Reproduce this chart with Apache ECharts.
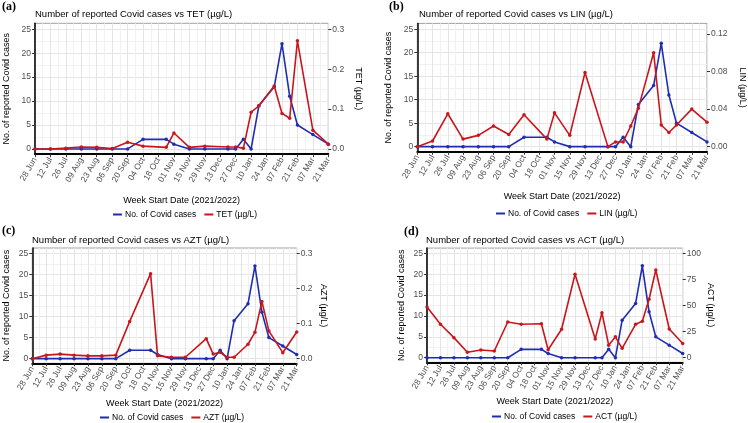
<!DOCTYPE html>
<html><head><meta charset="utf-8">
<script src="https://cdn.jsdelivr.net/npm/echarts@6/dist/echarts.min.js"></script>
<style>html,body{margin:0;padding:0;background:#fff}#c{width:748px;height:423px}</style>
</head><body><div id="c"></div>
<script>
// ---------- data ----------
const weekDates = ['2021-06-28','2021-07-12','2021-07-26','2021-08-09','2021-08-23','2021-09-06','2021-09-20',
  '2021-10-04','2021-10-25','2021-11-01','2021-11-15','2021-11-29','2021-12-20','2021-12-27','2022-01-03',
  '2022-01-10','2022-01-17','2022-01-31','2022-02-07','2022-02-14','2022-02-21','2022-03-07','2022-03-21'];
const covidCases = [0,0,0,0,0,0,0,2,2,1,0,0,0,0,2,0,9,13,22,11,5,3,1];
const tetValues = [0.000,0.000,0.002,0.005,0.004,0.001,0.017,0.007,0.004,0.040,0.004,0.007,0.005,0.005,0.002,0.092,0.108,0.158,0.089,0.077,0.271,0.047,0.012];
const linValues = [0.000,0.006,0.035,0.008,0.012,0.022,0.013,0.034,0.008,0.036,0.012,0.079,0.000,0.005,0.005,0.022,0.041,0.100,0.023,0.015,0.023,0.040,0.026];
const aztValues = [0.000,0.010,0.013,0.010,0.008,0.008,0.010,0.106,0.242,0.008,0.004,0.004,0.057,0.013,0.018,0.004,0.004,0.041,0.075,0.163,0.079,0.017,0.076];
const actValues = [48.5,32,19.2,5.2,7.4,6.4,34.2,32,32.6,7.6,27.2,79.9,18,43.1,12,20,9,32,35,56,84,27.5,13.6];
const xTickLabels = ['28 Jun','12 Jul','26 Jul','09 Aug','23 Aug','06 Sep','20 Sep','04 Oct','18 Oct','01 Nov',
  '15 Nov','29 Nov','13 Dec','27 Dec','10 Jan','24 Jan','07 Feb','21 Feb','07 Mar','21 Mar'];
const casesTicks = [0,5,10,15,20,25];
const casesMinorTicks = [2.5,7.5,12.5,17.5,22.5];
const tetTicks = [0,0.1,0.2,0.3];
const linTicks = [0,0.04,0.08,0.12];
const aztTicks = [0,0.1,0.2,0.3];
const actTicks = [0,25,50,75,100];
const compoundNames = ['TET (µg/L)','LIN (µg/L)','AZT (µg/L)','ACT (µg/L)'];
const panelLetters = ['(a)','(b)','(c)','(d)'];
const casesName = 'No. of Covid cases';
const yLeftName = 'No. of reported Covid cases';
const xName = 'Week Start Date (2021/2022)';

// ---------- layout ----------
const FONT = 'Liberation Sans, Arial, sans-serif';
const BLUE = '#1f2db3', RED = '#c8161d';
const panels = [
  {grid:{left:35,top:23.3,width:293.3,height:130.9}, k:0.012, vals:tetValues, ticks:tetTicks, dec:1,
   letter:[2,1], title:[35,9.5], legend:[113,210], yGap:24, rGap:26, xGap:42},
  {grid:{left:417.3,top:23.4,width:293.4,height:128.4}, k:0.005, vals:linValues, ticks:linTicks, dec:2,
   letter:[389,1], title:[419,9.5], legend:[496,209], yGap:24, rGap:31, xGap:40},
  {grid:{left:32.3,top:248,width:264.4,height:115.3}, k:0.012, vals:aztValues, ticks:aztTicks, dec:1,
   letter:[2,225], title:[32,235.5], legend:[100,413], yGap:21, rGap:22, xGap:36},
  {grid:{left:427,top:248.1,width:255.7,height:114.2}, k:4, vals:actValues, ticks:actTicks, dec:0,
   letter:[404,226], title:[426,235.5], legend:[492,412], yGap:21, rGap:23, xGap:35}
];
const Y_MIN = -1.1, Y_MAX = 26.25;

const t0 = Date.parse(weekDates[0]);
const weekIdx = weekDates.map(d => Math.round((Date.parse(d) - t0) / (7 * 86400000)));

const option = {animation:false, backgroundColor:'#fff', grid:[], xAxis:[], yAxis:[], series:[], title:[], legend:[]};
panels.forEach((p, i) => {
  option.grid.push(Object.assign({show:true, borderColor:'#a0a0a0', borderWidth:1, backgroundColor:'#fff'}, p.grid));
  option.xAxis.push({
    type:'value', gridIndex:i, min:0, max:38, interval:2,
    name:xName, nameLocation:'middle', nameGap:p.xGap,
    nameTextStyle:{fontFamily:FONT, fontSize:9, color:'#000'},
    axisLine:{show:true, onZero:false, lineStyle:{color:'#000', width:2}},
    axisTick:{show:true, length:3, lineStyle:{color:'#333'}},
    axisLabel:{rotate:60, fontSize:8.5, fontFamily:FONT, color:'#4d4d4d', margin:4,
      formatter:v => xTickLabels[Math.round(v/2)]},
    splitLine:{show:true, lineStyle:{color:'#e4e4e4', width:1}},
    minorTick:{show:false, splitNumber:2},
    minorSplitLine:{show:true, lineStyle:{color:'#f1f1f1', width:1}}
  });
  option.yAxis.push({
    type:'value', gridIndex:i, position:'left', min:Y_MIN, max:Y_MAX,
    name:yLeftName, nameLocation:'middle', nameGap:p.yGap, nameRotate:90,
    nameTextStyle:{fontFamily:FONT, fontSize:9, color:'#000'},
    axisLine:{show:true, lineStyle:{color:'#000', width:1.5}},
    axisTick:{show:true, length:3, customValues:casesTicks, lineStyle:{color:'#333'}},
    axisLabel:{customValues:casesTicks, fontSize:8.5, fontFamily:FONT, color:'#4d4d4d', margin:4},
    splitLine:{show:true, lineStyle:{color:'#e4e4e4', width:1}}
  });
  option.yAxis.push({
    type:'value', gridIndex:i, position:'right', min:Y_MIN*p.k, max:Y_MAX*p.k,
    name:compoundNames[i], nameLocation:'middle', nameGap:p.rGap, nameRotate:-90,
    nameTextStyle:{fontFamily:FONT, fontSize:9, color:'#000'},
    axisLine:{show:false},
    axisTick:{show:true, length:3, customValues:p.ticks, lineStyle:{color:'#333'}},
    axisLabel:{customValues:p.ticks, fontSize:8.5, fontFamily:FONT, color:'#4d4d4d', margin:4,
      formatter:v => v.toFixed(p.dec)},
    splitLine:{show:false}
  });
  option.yAxis.push({
    type:'value', gridIndex:i, position:'left', min:Y_MIN, max:Y_MAX,
    axisLine:{show:false}, axisLabel:{show:false},
    axisTick:{show:false, customValues:casesMinorTicks},
    splitLine:{show:true, lineStyle:{color:'#f1f1f1', width:1}}
  });
  option.series.push({
    name:casesName, type:'line', xAxisIndex:i, yAxisIndex:3*i, z:3,
    data:weekIdx.map((w, j) => [w, covidCases[j]]),
    symbol:'circle', symbolSize:3.5, showSymbol:true,
    lineStyle:{color:BLUE, width:1.6}, itemStyle:{color:BLUE}
  });
  option.series.push({
    name:compoundNames[i], type:'line', xAxisIndex:i, yAxisIndex:3*i+1, z:4,
    data:weekIdx.map((w, j) => [w, p.vals[j]]),
    symbol:'circle', symbolSize:3.5, showSymbol:true,
    lineStyle:{color:RED, width:1.6}, itemStyle:{color:RED}
  });
  option.title.push({text:panelLetters[i], left:p.letter[0], top:p.letter[1], padding:0,
    textStyle:{fontFamily:'Liberation Serif, serif', fontWeight:'bold', fontSize:12, color:'#000'}});
  option.title.push({text:'Number of reported Covid cases vs ' + compoundNames[i], left:p.title[0], top:p.title[1], padding:0,
    textStyle:{fontFamily:FONT, fontWeight:'normal', fontSize:9.5, color:'#000'}});
  option.legend.push({data:[casesName, compoundNames[i]], left:p.legend[0], top:p.legend[1], padding:0,
    icon:'rect', itemWidth:9, itemHeight:2, itemGap:8,
    textStyle:{fontFamily:FONT, fontSize:8.5, color:'#000', padding:[0,0,0,-2]}});
});

const chart = echarts.init(document.getElementById('c'), null, {renderer:'canvas'});
chart.setOption(option);
</script></body></html>
